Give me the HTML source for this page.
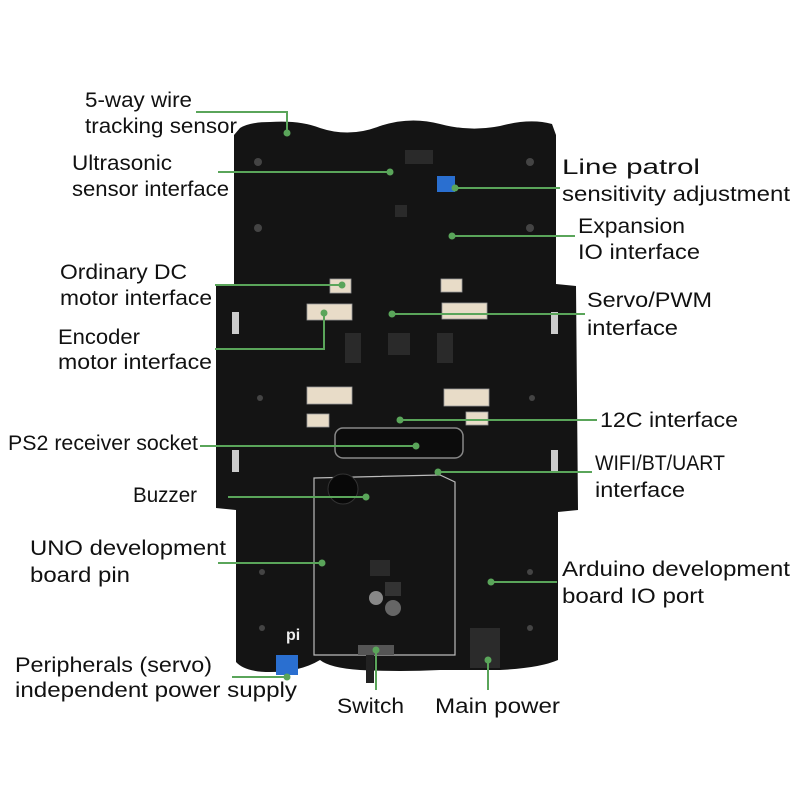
<!DOCTYPE html>
<html><head><meta charset="utf-8"><style>
body{margin:0;background:#fff;width:800px;height:800px;overflow:hidden}
svg{display:block}
text{font-family:"Liberation Sans",sans-serif;font-size:21px;fill:#111}
</style></head><body>
<svg width="800" height="800" viewBox="0 0 800 800">
<path d="M240,128 Q250,122 270,122 Q300,120 320,128 Q350,138 380,126 Q410,116 440,124 Q470,132 500,126 Q530,118 552,124 L556,135 L556,284 L576,286 L578,510 L558,512 L558,660 Q540,668 500,670 L440,670 Q400,672 360,670 Q330,668 320,660 Q300,672 270,672 Q245,672 236,662 L236,510 L216,508 L216,286 L234,284 L234,135 Z" fill="#141414"/>
<rect x="232" y="312" width="7" height="22" fill="#ccc"/><rect x="232" y="450" width="7" height="22" fill="#ccc"/>
<rect x="551" y="312" width="7" height="22" fill="#ccc"/><rect x="551" y="450" width="7" height="22" fill="#ccc"/>
<g fill="#444"><circle cx="258" cy="162" r="4"/><circle cx="530" cy="162" r="4"/><circle cx="258" cy="228" r="4"/><circle cx="530" cy="228" r="4"/><circle cx="260" cy="398" r="3"/><circle cx="532" cy="398" r="3"/><circle cx="262" cy="572" r="3"/><circle cx="530" cy="572" r="3"/><circle cx="262" cy="628" r="3"/><circle cx="530" cy="628" r="3"/></g>
<path d="M314,478 L440,475 L455,482 L455,655 L314,655 Z" fill="none" stroke="#bbb" stroke-width="1.2"/>
<rect x="335" y="428" width="128" height="30" rx="8" fill="#0c0c0c" stroke="#888" stroke-width="1.5"/>
<g fill="#e8dcc8" stroke="#999" stroke-width="0.8">
<rect x="330" y="279" width="21" height="14"/><rect x="307" y="304" width="45" height="16"/>
<rect x="441" y="279" width="21" height="13"/><rect x="442" y="303" width="45" height="16"/>
<rect x="307" y="387" width="45" height="17"/><rect x="307" y="414" width="22" height="13"/>
<rect x="444" y="389" width="45" height="17"/><rect x="466" y="412" width="22" height="13"/>
</g>
<g fill="#2a2a2a"><rect x="388" y="333" width="22" height="22"/><rect x="345" y="333" width="16" height="30"/><rect x="437" y="333" width="16" height="30"/><rect x="395" y="205" width="12" height="12"/><rect x="405" y="150" width="28" height="14"/><rect x="370" y="560" width="20" height="16"/></g>
<circle cx="343" cy="489" r="15" fill="#080808" stroke="#333"/>
<circle cx="376" cy="598" r="7" fill="#888"/><circle cx="393" cy="608" r="8" fill="#666"/>
<rect x="385" y="582" width="16" height="14" fill="#333"/>
<rect x="437" y="176" width="18" height="16" fill="#2a6fd0"/>
<rect x="276" y="655" width="22" height="20" fill="#2a6fd0"/>
<rect x="470" y="628" width="30" height="40" fill="#2b2b2b"/>
<rect x="358" y="645" width="36" height="10" fill="#555"/><rect x="366" y="655" width="8" height="28" fill="#222"/>
<text x="286" y="640" style="font-size:16px;fill:#eee;font-weight:bold">pi</text>
<g stroke="#5aa55a" stroke-width="2" fill="none">
<path d="M196,112 H287 V133"/><path d="M218,172 H390"/><path d="M455,188 H560"/><path d="M452,236 H575"/>
<path d="M215,285 H342"/><path d="M215,349 H324 V313"/><path d="M392,314 H585"/><path d="M400,420 H597"/>
<path d="M200,446 H416"/><path d="M438,472 H592"/><path d="M228,497 H366"/><path d="M218,563 H322"/>
<path d="M491,582 H557"/><path d="M232,677 H287"/><path d="M376,650 V690"/><path d="M488,660 V690"/>
</g>
<g fill="#5aa55a"><circle cx="287" cy="133" r="3.5"/><circle cx="390" cy="172" r="3.5"/><circle cx="455" cy="188" r="3.5"/><circle cx="452" cy="236" r="3.5"/><circle cx="342" cy="285" r="3.5"/><circle cx="324" cy="313" r="3.5"/><circle cx="392" cy="314" r="3.5"/><circle cx="400" cy="420" r="3.5"/><circle cx="416" cy="446" r="3.5"/><circle cx="438" cy="472" r="3.5"/><circle cx="366" cy="497" r="3.5"/><circle cx="322" cy="563" r="3.5"/><circle cx="491" cy="582" r="3.5"/><circle cx="287" cy="677" r="3.5"/><circle cx="376" cy="650" r="3.5"/><circle cx="488" cy="660" r="3.5"/></g>
<g lengthAdjust="spacingAndGlyphs">
<text x="85" y="107" textLength="107" lengthAdjust="spacingAndGlyphs">5-way wire</text><text x="85" y="133" textLength="152" lengthAdjust="spacingAndGlyphs">tracking sensor</text>
<text x="72" y="170" textLength="100" lengthAdjust="spacingAndGlyphs">Ultrasonic</text><text x="72" y="196" textLength="157" lengthAdjust="spacingAndGlyphs">sensor interface</text>
<text x="562" y="174" textLength="138" lengthAdjust="spacingAndGlyphs">Line patrol</text><text x="562" y="201" textLength="228" lengthAdjust="spacingAndGlyphs">sensitivity adjustment</text>
<text x="578" y="233" textLength="107" lengthAdjust="spacingAndGlyphs">Expansion</text><text x="578" y="259" textLength="122" lengthAdjust="spacingAndGlyphs">IO interface</text>
<text x="60" y="279" textLength="127" lengthAdjust="spacingAndGlyphs">Ordinary DC</text><text x="60" y="305" textLength="152" lengthAdjust="spacingAndGlyphs">motor interface</text>
<text x="58" y="344" textLength="82" lengthAdjust="spacingAndGlyphs">Encoder</text><text x="58" y="369" textLength="154" lengthAdjust="spacingAndGlyphs">motor interface</text>
<text x="587" y="307" textLength="125" lengthAdjust="spacingAndGlyphs">Servo/PWM</text><text x="587" y="335" textLength="91" lengthAdjust="spacingAndGlyphs">interface</text>
<text x="600" y="427" textLength="138" lengthAdjust="spacingAndGlyphs">12C interface</text>
<text x="8" y="450" textLength="190" lengthAdjust="spacingAndGlyphs">PS2 receiver socket</text>
<text x="595" y="470" textLength="130" lengthAdjust="spacingAndGlyphs">WIFI/BT/UART</text><text x="595" y="497" textLength="90" lengthAdjust="spacingAndGlyphs">interface</text>
<text x="133" y="502" textLength="64" lengthAdjust="spacingAndGlyphs">Buzzer</text>
<text x="30" y="555" textLength="196" lengthAdjust="spacingAndGlyphs">UNO development</text><text x="30" y="582" textLength="100" lengthAdjust="spacingAndGlyphs">board pin</text>
<text x="562" y="576" textLength="228" lengthAdjust="spacingAndGlyphs">Arduino development</text><text x="562" y="603" textLength="142" lengthAdjust="spacingAndGlyphs">board IO port</text>
<text x="15" y="672" textLength="197" lengthAdjust="spacingAndGlyphs">Peripherals (servo)</text><text x="15" y="697" textLength="282" lengthAdjust="spacingAndGlyphs">independent power supply</text>
<text x="337" y="713" textLength="67" lengthAdjust="spacingAndGlyphs">Switch</text><text x="435" y="713" textLength="125" lengthAdjust="spacingAndGlyphs">Main power</text>
</g>
</svg>
</body></html>
